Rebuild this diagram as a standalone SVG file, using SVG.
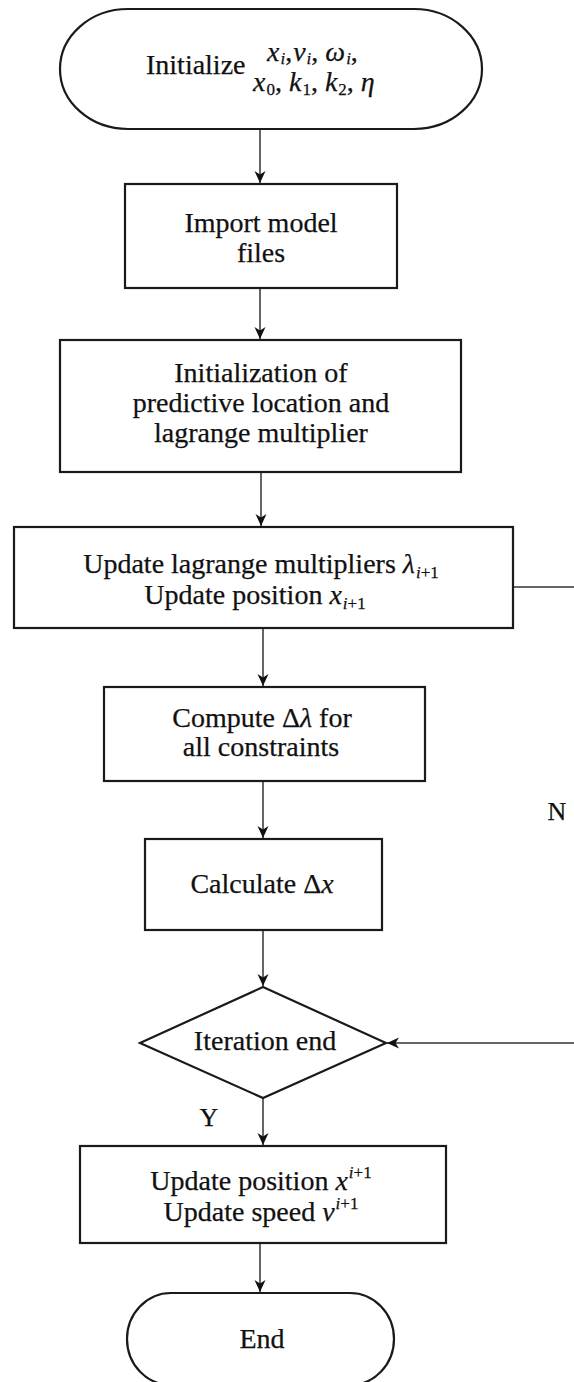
<svg xmlns="http://www.w3.org/2000/svg" width="574" height="1382" viewBox="0 0 574 1382">
  <style>
    .shape { fill: #fff; stroke: #1a1a1a; stroke-width: 2.2; }
    .conn { fill: none; stroke: #333; stroke-width: 1.5; }
    .t { font-family: 'Liberation Serif', 'Tinos', 'Times New Roman', serif; font-size: 28px; fill: #111; stroke: #111; stroke-width: 0.25; }
    .c { text-anchor: middle; }
    .it { font-style: italic; }
    .sm { font-size: 17px; }
    .lbl { font-size: 26px; }
  </style>
  <defs>
    <marker id="arrow" markerUnits="userSpaceOnUse" markerWidth="12" markerHeight="12" refX="12" refY="6" orient="auto">
      <path d="M0,0.5 L12,6 L0,11.5 L3.5,6 z" fill="#111"/>
    </marker>
  </defs>
  <rect width="574" height="1382" fill="#fff"/>

  <g id="connectors">
    <line class="conn" x1="260" y1="129" x2="260" y2="183" marker-end="url(#arrow)"/>
    <line class="conn" x1="260" y1="288" x2="260" y2="339" marker-end="url(#arrow)"/>
    <line class="conn" x1="261" y1="472" x2="261" y2="526" marker-end="url(#arrow)"/>
    <line class="conn" x1="263" y1="628" x2="263" y2="686" marker-end="url(#arrow)"/>
    <line class="conn" x1="263" y1="781" x2="263" y2="838" marker-end="url(#arrow)"/>
    <line class="conn" x1="263" y1="930" x2="263" y2="986" marker-end="url(#arrow)"/>
    <line class="conn" x1="263" y1="1098" x2="263" y2="1145" marker-end="url(#arrow)"/>
    <line class="conn" x1="260" y1="1243" x2="260" y2="1292" marker-end="url(#arrow)"/>
    <!-- loop-back branch (N): runs along the right margin into the decision -->
    <path class="conn" d="M513,587 H580 V1043 H387" marker-end="url(#arrow)"/>
    <text x="557" y="820" class="t c lbl">N</text>
    <text x="209" y="1126" class="t c lbl">Y</text>
  </g>

  <g id="start">
    <rect class="shape" x="60" y="9" width="422" height="120" rx="68" ry="60"/>
    <text x="146" y="74" class="t">Initialize</text>
    <text x="267" y="61" class="t" font-size="26"><tspan class="it">x</tspan><tspan class="it sm" dx="1" dy="3">i</tspan><tspan dy="-3">,</tspan><tspan class="it" dx="1">v</tspan><tspan class="it sm" dx="1" dy="3">i</tspan><tspan dy="-3">, </tspan><tspan class="it">ω</tspan><tspan class="it sm" dx="1" dy="3">i</tspan><tspan dy="-3">,</tspan></text>
    <text x="253" y="91" class="t" font-size="26"><tspan class="it">x</tspan><tspan class="sm" dx="1" dy="4">0</tspan><tspan dy="-4">, </tspan><tspan class="it">k</tspan><tspan class="sm" dx="1" dy="4">1</tspan><tspan dy="-4">, </tspan><tspan class="it">k</tspan><tspan class="sm" dx="1" dy="4">2</tspan><tspan dy="-4">, </tspan><tspan class="it">η</tspan></text>
  </g>

  <g id="import">
    <rect class="shape" x="125" y="184" width="272" height="104"/>
    <text x="261" y="232" class="t c">Import model</text>
    <text x="261" y="262" class="t c">files</text>
  </g>

  <g id="init-location">
    <rect class="shape" x="60" y="340" width="401" height="132"/>
    <text x="261" y="382" class="t c">Initialization of</text>
    <text x="261" y="412" class="t c">predictive location and</text>
    <text x="261" y="442" class="t c">lagrange multiplier</text>
  </g>

  <g id="update-multipliers">
    <rect class="shape" x="14" y="527" width="499" height="101"/>
    <text x="261" y="573" class="t c">Update lagrange multipliers <tspan class="it">λ</tspan><tspan class="it sm" dx="1" dy="5">i</tspan><tspan class="sm">+1</tspan></text>
    <text x="255" y="604" class="t c">Update position <tspan class="it">x</tspan><tspan class="it sm" dx="1" dy="5">i</tspan><tspan class="sm">+1</tspan></text>
  </g>

  <g id="compute-dlambda">
    <rect class="shape" x="104" y="687" width="321" height="94"/>
    <text x="262" y="727" class="t c">Compute Δ<tspan class="it">λ</tspan> for</text>
    <text x="261" y="756" class="t c">all constraints</text>
  </g>

  <g id="calc-dx">
    <rect class="shape" x="145" y="839" width="237" height="91"/>
    <text x="262" y="893" class="t c">Calculate Δ<tspan class="it">x</tspan></text>
  </g>

  <g id="iteration-end">
    <polygon class="shape" points="263,987 386,1043 263,1098 140,1043"/>
    <text x="265" y="1050" class="t c">Iteration end</text>
  </g>

  <g id="update-final">
    <rect class="shape" x="80" y="1146" width="366" height="97"/>
    <text x="261" y="1190" class="t c">Update position <tspan class="it">x</tspan><tspan class="it sm" dx="1" dy="-12">i</tspan><tspan class="sm">+1</tspan></text>
    <text x="261" y="1221" class="t c">Update speed <tspan class="it">v</tspan><tspan class="it sm" dx="1" dy="-12">i</tspan><tspan class="sm">+1</tspan></text>
  </g>

  <g id="end">
    <rect class="shape" x="127" y="1293" width="267" height="92" rx="44" ry="46"/>
    <text x="262" y="1348" class="t c">End</text>
  </g>
</svg>
